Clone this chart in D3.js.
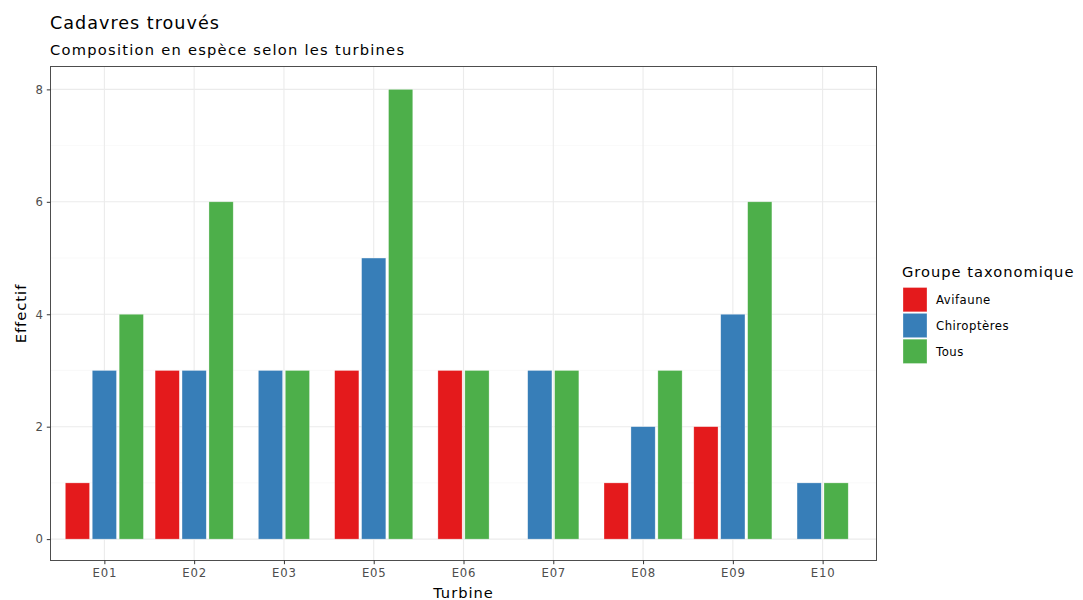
<!DOCTYPE html>
<html><head><meta charset="utf-8">
<script src="https://cdn.jsdelivr.net/npm/d3@7"></script>
<style>
body{margin:0;background:#fff;}
text{font-family:"DejaVu Sans",sans-serif;}
</style></head>
<body>
<svg id="c" width="1083" height="600"></svg>
<script>
const turbines = ["E01","E02","E03","E05","E06","E07","E08","E09","E10"];
const avifaune = [1,3,null,3,3,null,1,2,null];
const chiropteres = [3,3,3,5,null,3,2,4,1];
const tous = [4,6,3,8,3,3,3,6,1];
const groups = ["Avifaune","Chiroptères","Tous"];
const colors = ["#E41A1C","#377EB8","#4DAF4A"];
const yTicks = [0,2,4,6,8];
const yMinor = [1,3,5,7];
const series = [avifaune, chiropteres, tous];

const svg = d3.select("#c");
const L = 50.5, R = 876.5, T = 66.5, B = 560.5;

const x = d3.scalePoint().domain(turbines).range([L, R]).padding(0.6);
const y = d3.scaleLinear().domain([-0.4, 8.4]).range([561.6, 66.9]);
const step = x.step();
const slot = 0.3 * step, barW = 0.27 * step;

// grid
const g = svg.append("g");
g.selectAll(".mn").data(yMinor).join("line")
  .attr("x1", L).attr("x2", R).attr("y1", d => y(d)).attr("y2", d => y(d))
  .attr("stroke", "#F5F5F5").attr("stroke-width", 0.6);
g.selectAll(".mj").data(yTicks).join("line")
  .attr("x1", L).attr("x2", R).attr("y1", d => y(d)).attr("y2", d => y(d))
  .attr("stroke", "#EBEBEB").attr("stroke-width", 1.1);
g.selectAll(".vx").data(turbines).join("line")
  .attr("x1", d => x(d)).attr("x2", d => x(d)).attr("y1", T).attr("y2", B)
  .attr("stroke", "#EBEBEB").attr("stroke-width", 1.1);

// bars
const bars = [];
turbines.forEach((t, i) => {
  const present = series.map((s, k) => ({k, v: s[i]})).filter(d => d.v !== null);
  const n = present.length;
  present.forEach((d, j) => {
    const cx = x(t) + (j - (n - 1) / 2) * slot;
    bars.push({t, k: d.k, v: d.v, cx});
  });
});
svg.append("g").selectAll("rect").data(bars).join("rect")
  .attr("x", d => d.cx - barW / 2).attr("width", barW)
  .attr("y", d => y(d.v)).attr("height", d => y(0) - y(d.v))
  .attr("fill", d => colors[d.k]).attr("stroke", "#fff").attr("stroke-opacity", 0.5).attr("stroke-width", 0.6);

// border
svg.append("rect").attr("x", L).attr("y", T).attr("width", R - L).attr("height", B - T)
  .attr("fill", "none").attr("stroke", "#4D4D4D").attr("stroke-width", 1);

// axes
const yAxis = d3.axisLeft(y).tickValues(yTicks).tickSize(3.7).tickPadding(3);
const ya = svg.append("g").attr("transform", `translate(${L},0)`).call(yAxis);
const xAxis = d3.axisBottom(x).tickSize(3.7).tickPadding(4);
const xa = svg.append("g").attr("transform", `translate(0,${B})`).call(xAxis);
[ya, xa].forEach(a => {
  a.select(".domain").remove();
  a.selectAll(".tick line").attr("stroke", "#333333").attr("stroke-width", 1);
  a.selectAll(".tick text").attr("fill", "#4D4D4D").style("font-size", "11.7px")
    .style("font-family", "DejaVu Sans").style("letter-spacing", "0.8px");
});

// titles
svg.append("text").attr("x", 50).attr("y", 29).text("Cadavres trouvés")
  .style("font-size", "17.6px").style("letter-spacing", "1px").attr("fill", "#000");
svg.append("text").attr("x", 50).attr("y", 55).text("Composition en espèce selon les turbines")
  .style("font-size", "14.67px").style("letter-spacing", "1.25px").attr("fill", "#000");
svg.append("text").attr("x", (L + R) / 2).attr("y", 598).attr("text-anchor", "middle")
  .text("Turbine").style("font-size", "14.67px").style("letter-spacing", "1px");
svg.append("text").attr("transform", `translate(26,${(T + B) / 2}) rotate(-90)`).attr("text-anchor", "middle")
  .text("Effectif").style("font-size", "14.67px").style("letter-spacing", "1px");

// legend
const lg = svg.append("g");
lg.append("text").attr("x", 902).attr("y", 277).text("Groupe taxonomique")
  .style("font-size", "14.67px").style("letter-spacing", "1px");
const ly = d3.scaleBand().domain(groups).range([287.5, 365]);
lg.selectAll("rect").data(groups).join("rect")
  .attr("x", 903).attr("y", d => ly(d)).attr("width", 24).attr("height", ly.bandwidth() - 1.5)
  .attr("fill", (d, i) => colors[i]).attr("stroke", "#fff").attr("stroke-opacity", 0.5).attr("stroke-width", 0.6);
lg.selectAll(".lt").data(groups).join("text")
  .attr("x", 936).attr("y", d => ly(d) + ly.bandwidth() / 2 + 4)
  .text(d => d).style("font-size", "11.7px").style("letter-spacing", "0.5px").attr("fill", "#000");
</script>
</body></html>
